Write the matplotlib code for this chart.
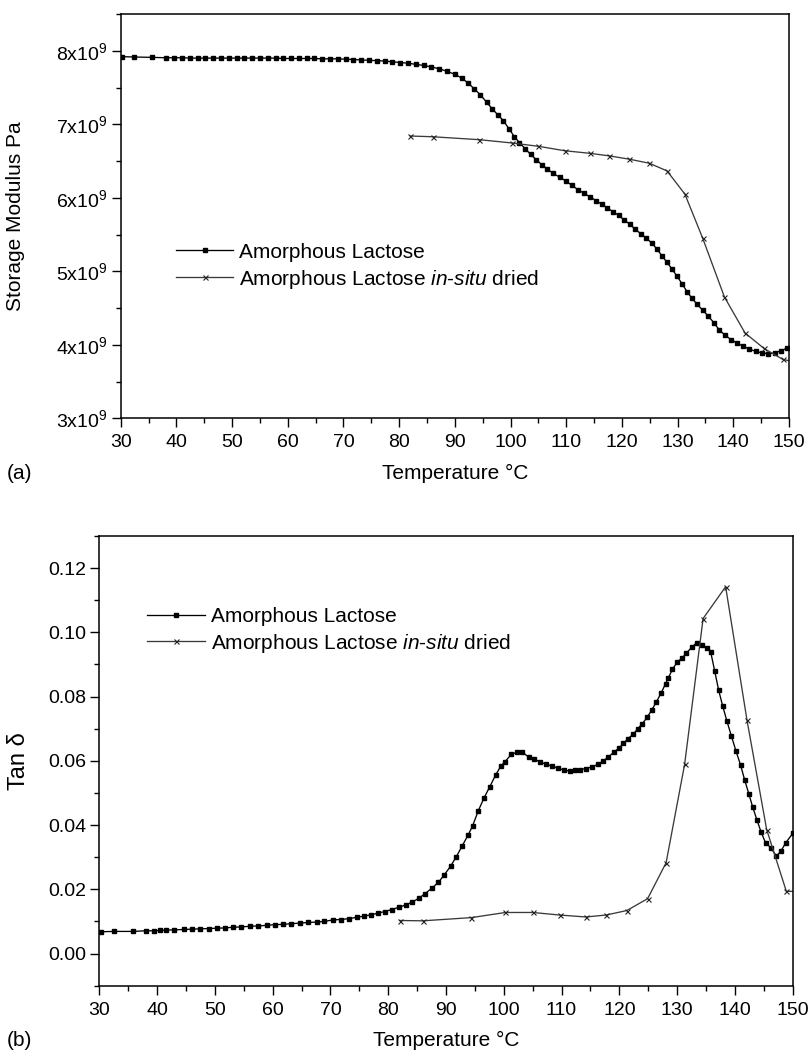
import matplotlib
matplotlib.use("Agg")
import matplotlib.pyplot as plt
from matplotlib.ticker import MultipleLocator

plt.rcParams['font.family'] = ['Liberation Sans', 'DejaVu Sans']
plt.rcParams['mathtext.fontset'] = 'custom'
plt.rcParams['mathtext.rm'] = 'Liberation Sans'
plt.rcParams['mathtext.it'] = 'Liberation Sans:italic'
plt.rcParams['mathtext.bf'] = 'Liberation Sans:bold'

# ---------------- data ----------------
series_names = ["Amorphous Lactose", r"Amorphous Lactose $\it{in}$-$\it{situ}$ dried"]

# (a) storage modulus, units of 1e9 Pa
temp_a1 = [30.2, 32.4, 35.6, 38.1, 39.5, 41.0, 42.4, 43.8, 45.2, 46.6, 48.0, 49.4, 50.8, 52.2,
           53.6, 55.0, 56.4, 57.8, 59.2, 60.6, 62.0, 63.4, 64.8, 66.2, 67.6, 69.0, 70.4, 71.8,
           73.2, 74.6, 76.0, 77.4, 78.8, 80.2, 81.6, 83.0, 84.4, 85.8, 87.2, 88.6, 90.0, 91.2,
           92.4, 93.5, 94.6, 95.7, 96.7, 97.7, 98.7, 99.7, 100.7, 101.6, 102.6, 103.6, 104.6,
           105.6, 106.6, 107.7, 108.8, 109.9, 111.0, 112.1, 113.2, 114.3, 115.4, 116.4, 117.4,
           118.4, 119.4, 120.4, 121.4, 122.4, 123.4, 124.4, 125.4, 126.3, 127.2, 128.1, 129.0,
           129.9, 130.8, 131.7, 132.6, 133.5, 134.5, 135.5, 136.5, 137.5, 138.5, 139.6, 140.7,
           141.8, 142.9, 144.0, 145.1, 146.2, 147.4, 148.5, 149.6, 150.5]
modulus_a1 = [7.92, 7.915, 7.91, 7.905, 7.905, 7.905, 7.90, 7.90, 7.90, 7.90, 7.90, 7.90, 7.90, 7.90,
              7.90, 7.90, 7.90, 7.90, 7.895, 7.895, 7.895, 7.895, 7.895, 7.89, 7.89, 7.89, 7.885, 7.88,
              7.875, 7.87, 7.865, 7.86, 7.85, 7.84, 7.83, 7.815, 7.80, 7.78, 7.755, 7.72, 7.68, 7.63,
              7.56, 7.48, 7.40, 7.30, 7.21, 7.13, 7.05, 6.94, 6.83, 6.75, 6.67, 6.59, 6.52,
              6.45, 6.39, 6.33, 6.28, 6.23, 6.17, 6.11, 6.06, 6.01, 5.96, 5.91, 5.86,
              5.81, 5.76, 5.70, 5.64, 5.57, 5.51, 5.45, 5.38, 5.30, 5.21, 5.12, 5.03,
              4.93, 4.83, 4.72, 4.63, 4.55, 4.47, 4.39, 4.30, 4.20, 4.13, 4.07, 4.02,
              3.98, 3.94, 3.91, 3.89, 3.88, 3.885, 3.92, 3.95, 3.97]

temp_2 = [82.0, 86.0, 94.4, 100.3, 105.0, 109.7, 114.2, 117.7, 121.3, 124.9, 128.1, 131.3,
          134.5, 138.4, 142.1, 145.5, 148.9, 151.5]
modulus_a2 = [6.84, 6.83, 6.79, 6.745, 6.70, 6.64, 6.605, 6.57, 6.525, 6.47, 6.365, 6.05,
              5.45, 4.65, 4.16, 3.95, 3.80, 3.76]

# (b) tan delta
temp_b1 = [30.3, 32.5, 35.8, 38.1, 39.5, 40.5, 41.6, 43.0, 44.6, 46.0, 47.4, 49.0, 50.4, 51.8,
           53.2, 54.6, 56.0, 57.5, 59.0, 60.4, 61.8, 63.2, 64.8, 66.2, 67.6, 68.9, 70.5, 71.8,
           73.3, 74.6, 75.9, 77.1, 78.3, 79.4, 80.6, 81.8, 83.0, 84.2, 85.3, 86.4, 87.6, 88.7,
           89.7, 90.8, 91.8, 92.8, 93.8, 94.6, 95.6, 96.6, 97.6, 98.6, 99.5, 100.2, 101.3, 102.3,
           103.2, 104.3, 105.3, 106.3, 107.3, 108.3, 109.4, 110.4, 111.4, 112.3, 113.2, 114.2,
           115.2, 116.3, 117.2, 118.1, 119.0, 119.9, 120.7, 121.5, 122.4, 123.2, 124.0, 124.8,
           125.6, 126.4, 127.2, 128.0, 128.5, 129.2, 130.0, 130.8, 131.6, 132.5, 133.4, 134.3,
           135.1, 135.8, 136.5, 137.2, 137.9, 138.6, 139.4, 140.2, 141.0, 141.7, 142.4, 143.1,
           143.8, 144.5, 145.3, 146.2, 147.2, 148.0, 148.8, 150.0]
tand_b1 = [0.0068, 0.0069, 0.0069, 0.0071, 0.0071, 0.0072, 0.0073, 0.0074, 0.0075, 0.0076, 0.0077,
           0.0078, 0.0079, 0.0080, 0.0082, 0.0083, 0.0085, 0.0086, 0.0088, 0.0090, 0.0091, 0.0093,
           0.0095, 0.0097, 0.0098, 0.0100, 0.0105, 0.0106, 0.0109, 0.0113, 0.0117, 0.0121, 0.0126,
           0.0131, 0.0137, 0.0144, 0.0151, 0.0161, 0.0172, 0.0187, 0.0204, 0.0222, 0.0245, 0.0272,
           0.0302, 0.0335, 0.0368, 0.0397, 0.0445, 0.0485, 0.0520, 0.0556, 0.0584, 0.0597, 0.0620,
           0.0627, 0.0627, 0.0612, 0.0606, 0.0596, 0.0590, 0.0584, 0.0577, 0.0571, 0.0568, 0.0570,
           0.0573, 0.0576, 0.0581, 0.0589, 0.0599, 0.0612, 0.0626, 0.0639, 0.0654, 0.0669, 0.0683,
           0.0700, 0.0716, 0.0735, 0.0758, 0.0783, 0.0810, 0.0840, 0.0859, 0.0885, 0.0907, 0.0919,
           0.0935, 0.0953, 0.0968, 0.0960, 0.0952, 0.0940, 0.0880, 0.0819, 0.0770, 0.0725, 0.0677,
           0.0630, 0.0586, 0.0540, 0.0498, 0.0455, 0.0417, 0.0380, 0.0345, 0.0330, 0.0303, 0.0320,
           0.0345, 0.0374]
tand_b2 = [0.0103, 0.0102, 0.0112, 0.0128, 0.0128, 0.0120, 0.0114, 0.0120, 0.0134, 0.0171, 0.0283,
           0.0589, 0.1043, 0.1142, 0.0726, 0.0386, 0.0194, 0.0193]

x_ticks = [30, 40, 50, 60, 70, 80, 90, 100, 110, 120, 130, 140, 150]
a_yticks = [3, 4, 5, 6, 7, 8]
a_yticklabels = [r"3x10$^9$", r"4x10$^9$", r"5x10$^9$", r"6x10$^9$", r"7x10$^9$", r"8x10$^9$"]
b_yticks = [0.00, 0.02, 0.04, 0.06, 0.08, 0.10, 0.12]
b_yticklabels = ["0.00", "0.02", "0.04", "0.06", "0.08", "0.10", "0.12"]

# ---------------- figure ----------------
fig = plt.figure(figsize=(8.11, 10.53), dpi=100)
ax1 = fig.add_axes([0.1488, 0.6028, 0.8241, 0.3839])
ax2 = fig.add_axes([0.1224, 0.0639, 0.8550, 0.4271])

s1 = dict(color='black', lw=0.95, marker='s', ms=2.2, mfc='black', mec='black')
s2 = dict(color='#3a3a3a', lw=0.95, marker='x', ms=3.6, mew=0.8, mec='#222222')

ax1.plot(temp_a1, modulus_a1, label=series_names[0], **s1)
ax1.plot(temp_2, modulus_a2, label=series_names[1], **s2)
ax2.plot(temp_b1, tand_b1, label=series_names[0], **s1)
ax2.plot(temp_2, tand_b2, label=series_names[1], **s2)

ax1.set_xlim(30, 150)
ax1.set_ylim(3, 8.5)
ax1.set_yticks(a_yticks, a_yticklabels)
ax1.yaxis.set_minor_locator(MultipleLocator(0.5))

ax2.set_xlim(30, 150)
ax2.set_ylim(-0.01, 0.13)
ax2.set_yticks(b_yticks, b_yticklabels)
ax2.yaxis.set_minor_locator(MultipleLocator(0.01))

for ax in (ax1, ax2):
    ax.set_xticks(x_ticks)
    ax.xaxis.set_minor_locator(MultipleLocator(5))
    ax.tick_params(which='major', direction='out', length=6.5, width=1.0, labelsize=14, pad=3)
    ax.tick_params(axis='x', which='major', pad=5)
    ax.tick_params(which='minor', direction='out', length=3.6, width=1.0)
    ax.tick_params(top=False, right=False, which='both')
    for sp in ax.spines.values():
        sp.set_linewidth(1.1)
    ax.set_xlabel("Temperature \u00b0C", fontsize=15, labelpad=9)

ax1.set_ylabel("Storage Modulus Pa", fontsize=15, labelpad=22)
ax2.set_ylabel("Tan \u03b4", fontsize=17, labelpad=13)

leg_kw = dict(frameon=False, fontsize=15, handlelength=2.75, handletextpad=0.3,
              labelspacing=0.28, borderpad=0, borderaxespad=0, numpoints=1, loc='center left')
ax1.legend(bbox_to_anchor=(0.0827, 0.375), **leg_kw)
ax2.legend(bbox_to_anchor=(0.0695, 0.789), **leg_kw)

fig.text(7 / 811, 1 - 473 / 1053, "(a)", fontsize=15, va='center', ha='left')
fig.text(7 / 811, 1 - 1041 / 1053, "(b)", fontsize=15, va='center', ha='left')

fig.savefig("out.png", dpi=100)
